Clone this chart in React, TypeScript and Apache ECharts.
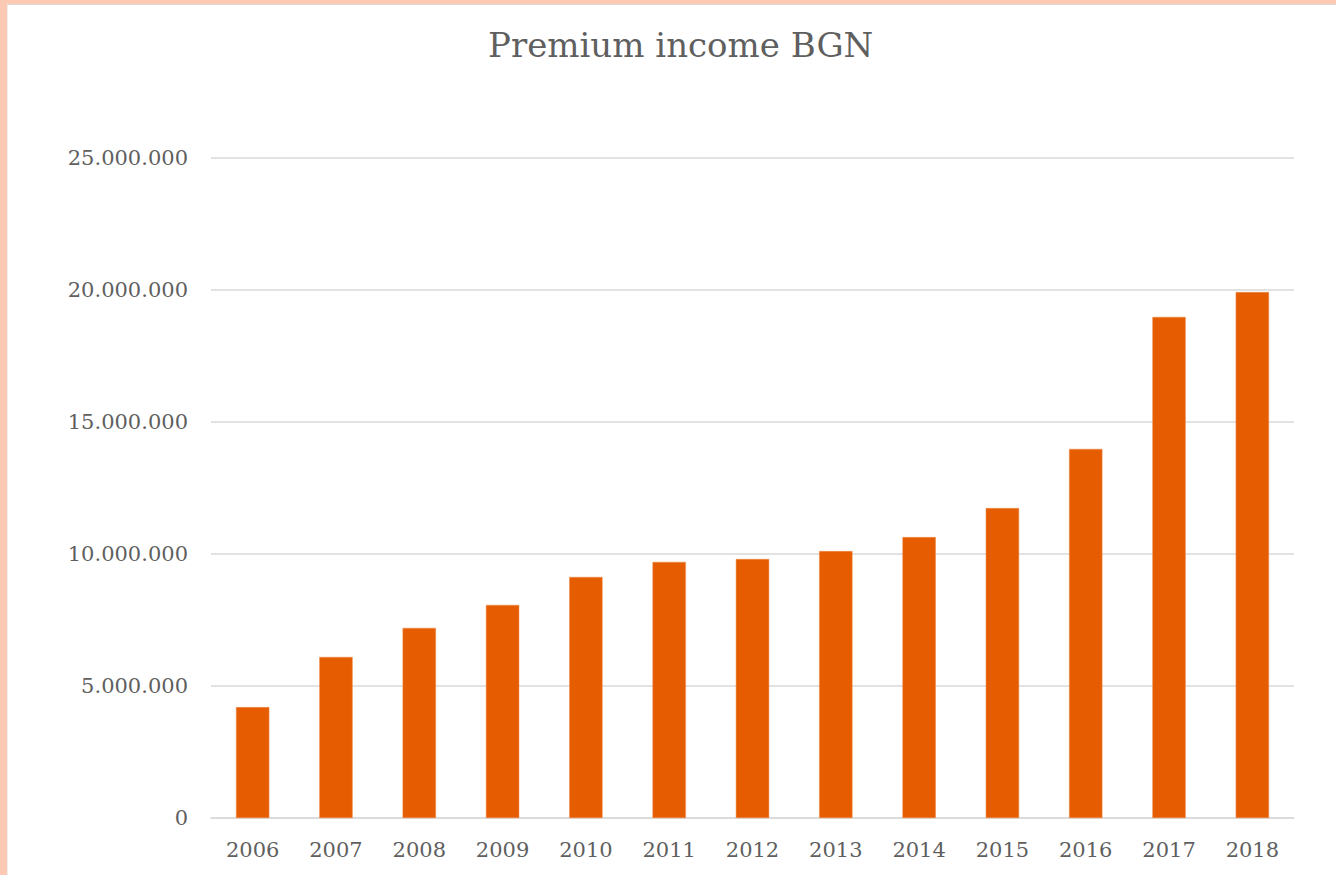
import React, { useEffect, useRef } from "react";
import * as echarts from "echarts";

const years = ["2006", "2007", "2008", "2009", "2010", "2011", "2012", "2013", "2014", "2015", "2016", "2017", "2018"];
const premiumIncome = [4200000, 6100000, 7200000, 8070000, 9130000, 9700000, 9810000, 10110000, 10640000, 11740000, 13980000, 18980000, 19920000];
const chartTitle = "Premium income BGN";

const fmt = (v: number) => String(Math.round(v)).replace(/\B(?=(\d{3})+(?!\d))/g, ".");

export default function App() {
  const ref = useRef<HTMLDivElement>(null);
  useEffect(() => {
    document.body.style.margin = "0";
    const chart = echarts.init(ref.current!, null, { renderer: "svg" });
    const font = "'DejaVu Serif', serif";
    chart.setOption({
      animation: false,
      backgroundColor: "#ffffff",
      title: {
        text: chartTitle,
        left: 475,
        top: 18,
        textStyle: { fontFamily: font, fontSize: 34, fontWeight: "normal", color: "#5f5f5f" },
      },
      grid: { left: 203, right: 42, top: 153, bottom: 57, containLabel: false },
      xAxis: {
        type: "category",
        data: years,
        axisLine: { lineStyle: { color: "#d9d9d9", width: 1.5 } },
        axisTick: { show: false },
        axisLabel: { fontFamily: font, fontSize: 21, color: "#5f5f5f", margin: 21 },
      },
      yAxis: {
        type: "value",
        min: 0,
        max: 25000000,
        interval: 5000000,
        axisLine: { show: false },
        axisTick: { show: false },
        splitLine: { lineStyle: { color: "#d9d9d9", width: 1.5 } },
        axisLabel: { fontFamily: font, fontSize: 21, color: "#5f5f5f", margin: 23, formatter: fmt },
      },
      series: [
        {
          type: "bar",
          data: premiumIncome,
          barWidth: "40%",
          itemStyle: { color: "#e65c00", borderColor: "#f08a4a", borderWidth: 0.5 },
        },
      ],
    });
    return () => chart.dispose();
  }, []);
  return (
    <div style={{ position: "fixed", left: 0, top: 0, width: 1336, height: 875, background: "#fcc9b5" }}>
      <div
        style={{
          position: "absolute",
          left: 7,
          top: 4,
          right: 0,
          bottom: 0,
          background: "#fff",
          borderTop: "1px solid #d9d9d9",
          borderLeft: "1px solid #eeeeee",
        }}
      >
        <div ref={ref} style={{ width: 1328, height: 870 }} />
      </div>
    </div>
  );
}
